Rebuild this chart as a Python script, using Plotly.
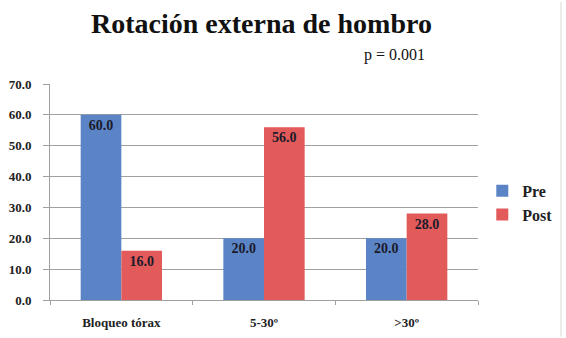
import plotly.graph_objects as go

categories = ["Bloqueo tórax", "5-30º", ">30º"]
pre_values = [60.0, 20.0, 20.0]
post_values = [16.0, 56.0, 28.0]
y_ticks = [0, 10, 20, 30, 40, 50, 60, 70]
title_text = "Rotación externa de hombro"
p_text = "p = 0.001"

serif = "Liberation Serif"

fig = go.Figure()
fig.add_trace(go.Bar(
    name="<b>Pre</b>", x=categories, y=pre_values,
    marker=dict(color="#5a84c6", line=dict(width=0)),
    text=[f"<b>{v:.1f}</b>" for v in pre_values],
    textposition="inside", insidetextanchor="end",
    textfont=dict(family=serif, size=14, color="#1a1a2a"),
))
fig.add_trace(go.Bar(
    name="<b>Post</b>", x=categories, y=post_values,
    marker=dict(color="#e25a5a", line=dict(width=0)),
    text=[f"<b>{v:.1f}</b>" for v in post_values],
    textposition="inside", insidetextanchor="end",
    textfont=dict(family=serif, size=14, color="#1a1a2a"),
))

fig.update_layout(
    width=566, height=338,
    margin=dict(l=50, r=88, t=84, b=38, autoexpand=False),
    paper_bgcolor="white", plot_bgcolor="white",
    barmode="group", bargap=0.43, bargroupgap=0,
    showlegend=True,
    legend=dict(x=1.01, y=0.45, xanchor="left", yanchor="middle",
                font=dict(family=serif, size=16, color="#222"),
                itemwidth=30),
    font=dict(family=serif, color="#222"),
    annotations=[
        dict(text=f"<b>{title_text}</b>", x=0.495, y=1.36, xref="paper", yref="paper",
             xanchor="center", yanchor="top", showarrow=False,
             font=dict(family=serif, size=28, color="#111")),
        dict(text=p_text, x=0.882, y=1.185, xref="paper", yref="paper",
             xanchor="right", yanchor="top", showarrow=False,
             font=dict(family=serif, size=16, color="#111")),
    ],
    shapes=[
        dict(type="line", xref="paper", yref="paper", x0=1.194, x1=1.194, y0=-0.17, y1=1.38,
             line=dict(color="#d8d8d8", width=1)),
    ],
)
fig.update_yaxes(range=[0, 70], tickvals=y_ticks, ticktext=[f"<b>{v:.1f}</b>" for v in y_ticks],
                 showgrid=True, gridcolor="#a0a0a0", gridwidth=1,
                 showline=True, linecolor="#a0a0a0", linewidth=1,
                 ticks="outside", ticklen=6, tickcolor="#a0a0a0", ticklabelstandoff=9,
                 tickfont=dict(family=serif, size=13, color="#222"), zeroline=False,
                 automargin=False)
fig.update_xaxes(showline=True, linecolor="#a0a0a0", linewidth=1,
                 ticks="outside", tickson="boundaries", ticklen=4, tickcolor="#a0a0a0",
                 ticklabelstandoff=10,
                 tickvals=categories, ticktext=[f"<b>{c}</b>" for c in categories],
                 tickfont=dict(family=serif, size=13, color="#222"), automargin=False)

fig.write_html("out.html", config={"displayModeBar": False},
               post_script="document.body.style.margin='0';document.body.style.overflow='hidden';")
